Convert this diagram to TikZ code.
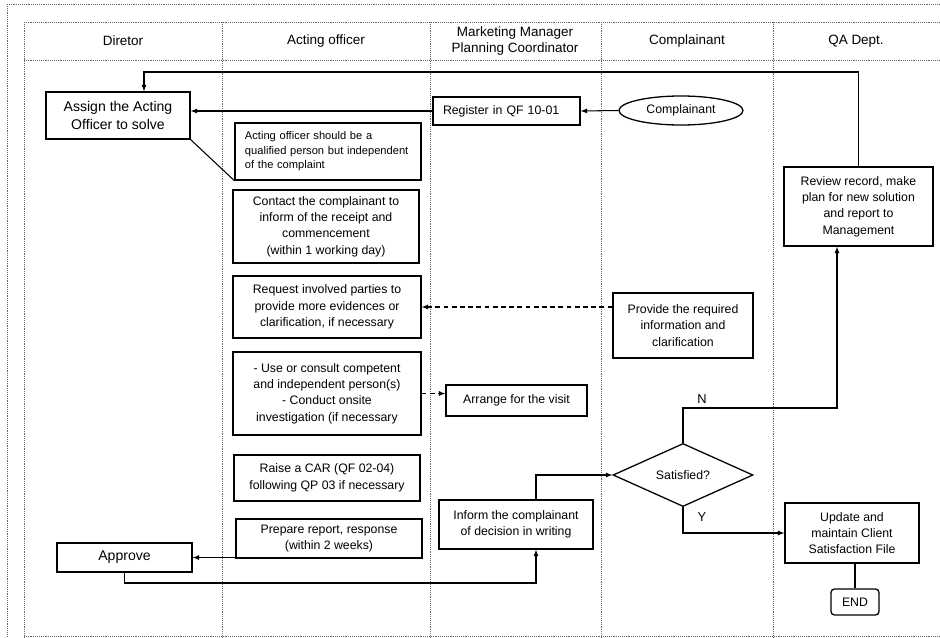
\documentclass[tikz,border=0pt]{standalone}
\usepackage{fontspec}
\setmainfont{Liberation Sans}
\usetikzlibrary{calc,shapes.geometric}

\begin{document}
\begin{tikzpicture}[x=0.03cm,y=-0.03cm,
		lane/.style={densely dotted,line width=0.6pt,black!60},
		box/.style={draw,line width=1.1pt,align=center,inner sep=2pt,font=\fontsize{10.5}{14}\selectfont},
		big/.style={box,font=\fontsize{12}{15}\selectfont},
		head/.style={align=center,font=\fontsize{11.5}{13}\selectfont},
		arr/.style={line width=0.9pt,-latex},
		dasharr/.style={arr,dash pattern=on 4pt off 3pt},
		lbl/.style={font=\fontsize{11}{13}\selectfont}]
			%%%%% START %%%%%
			\useasboundingbox (0, 0) rectangle (940, 638);
			
			% frame and lanes
			\draw[lane] (7, 4) -- (940, 4);
			\draw[lane] (7, 4) -- (7, 638);
			\draw[lane] (24, 22) -- (940, 22);
			\draw[lane] (24, 60) -- (940, 60);
			\draw[lane] (24, 636) -- (940, 636);
			\draw[lane] (24, 22) -- (24, 638);
			\draw[lane] (222, 22) -- (222, 638);
			\draw[lane] (430, 22) -- (430, 638);
			\draw[lane] (601, 22) -- (601, 638);
			\draw[lane] (773, 22) -- (773, 638);
			
			\node[head] (hdir) at (123, 41) {Diretor};
			\node[head] (hact) at (326, 41) {Acting officer};
			\node[head] (hmkt) at (515, 41) {Marketing Manager\\Planning Coordinator};
			\node[head] (hcmp) at (687, 41) {Complainant};
			\node[head] (hqa) at (856, 41) {QA Dept.};
			
			% steps
			\node[big, minimum width=4.32cm, minimum height=1.41cm] (asg) at (118, 115.5) {Assign the Acting\\Officer to solve};
			\node[box, align=left, inner xsep=0.3cm, text width=3.81cm, minimum height=0.84cm] (reg) at (506.5, 111) {Register in QF 10-01};
			\node[draw, ellipse, line width=1.1pt, minimum width=3.72cm, minimum height=0.87cm, font=\fontsize{10.5}{14}\selectfont] (cmp) at (681, 110.5) {Complainant};
			\node[box, align=left, inner xsep=0.3cm, text width=4.98cm, minimum height=1.71cm, font=\fontsize{9.5}{12.3}\selectfont] (note) at (328, 151.5) {Acting officer should be a\\qualified person but independent\\of the complaint};
			\node[box, minimum width=5.58cm, minimum height=2.19cm] (cnt) at (326, 226.5) {Contact the complainant to\\inform of the receipt and\\commencement\\(within 1 working day)};
			\node[box, minimum width=5.64cm, minimum height=1.86cm] (req) at (327, 307) {Request involved parties to\\provide more evidences or\\clarification, if necessary};
			\node[box, minimum width=5.64cm, minimum height=2.49cm] (use) at (327, 393.5) {- Use or consult competent\\and independent person(s)\\- Conduct onsite\\investigation (if necessary};
			\node[box, minimum width=5.58cm, minimum height=1.38cm] (car) at (327, 478) {Raise a CAR (QF 02-04)\\following QP 03 if necessary};
			\node[box, minimum width=5.58cm, minimum height=1.17cm] (prep) at (329, 538.5) {Prepare report, response\\(within 2 weeks)};
			\node[big, minimum width=4.05cm, minimum height=0.87cm] (apr) at (124.5, 557.5) {Approve};
			\node[box, minimum width=4.23cm, minimum height=0.93cm] (vis) at (516.5, 400.5) {Arrange for the visit};
			\node[box, minimum width=4.2cm, minimum height=1.95cm] (prv) at (683, 325.5) {Provide the required\\information and\\clarification};
			\node[box, minimum width=4.47cm, minimum height=2.37cm] (rev) at (858.5, 206.5) {Review record, make\\plan for new solution\\and report to\\Management};
			\node[box, minimum width=4.62cm, minimum height=1.47cm] (inf) at (516, 524.5) {Inform the complainant\\of decision in writing};
			\node[box, diamond, inner sep=0pt, minimum width=4.2cm, minimum height=1.68cm] (sat) at (683, 475) {Satisfied?};
			\node[box, minimum width=4.02cm, minimum height=1.8cm] (upd) at (852, 533) {Update and\\maintain Client\\Satisfaction File};
			\node[box, rounded corners=3pt, minimum width=1.44cm, minimum height=0.78cm] (end) at (855, 602) {END};
			
			% bends
			\coordinate (topbend) at (144, 72);
			\coordinate (lowbend) at (536, 583);
			\coordinate (nbend) at (837, 408);
			
			% connectors
			\draw[arr] (cmp.west) -- (reg.east);
			\draw[arr] (reg.west) -- (reg.west -| asg.east);
			\draw[arr] (rev.north) |- (topbend) -- (topbend |- asg.north);
			\draw[line width=0.9pt] (asg.south east) -- (note.south west);
			\draw[dasharr] (prv.west |- req.east) -- (req.east);
			\draw[dasharr] (use.east) -- (use.east -| vis.west);
			\draw[arr] (prep.west |- apr.east) -- (apr.east);
			\draw[arr] (apr.south) |- (lowbend) -- (lowbend |- inf.south);
			\draw[arr] (lowbend |- inf.north) |- (sat.west);
			\draw[arr] (sat.north) |- (nbend) -- (nbend |- rev.south);
			\draw[arr] (sat.south) |- (upd.west);
			\draw[line width=0.9pt] (upd.south -| end.north) -- (end.north);
			
			\node[lbl] (nlbl) at (702, 399) {N};
			\node[lbl] (ylbl) at (702, 517) {Y};
			%%%%% END %%%%%
		\end{tikzpicture}
\end{document}
